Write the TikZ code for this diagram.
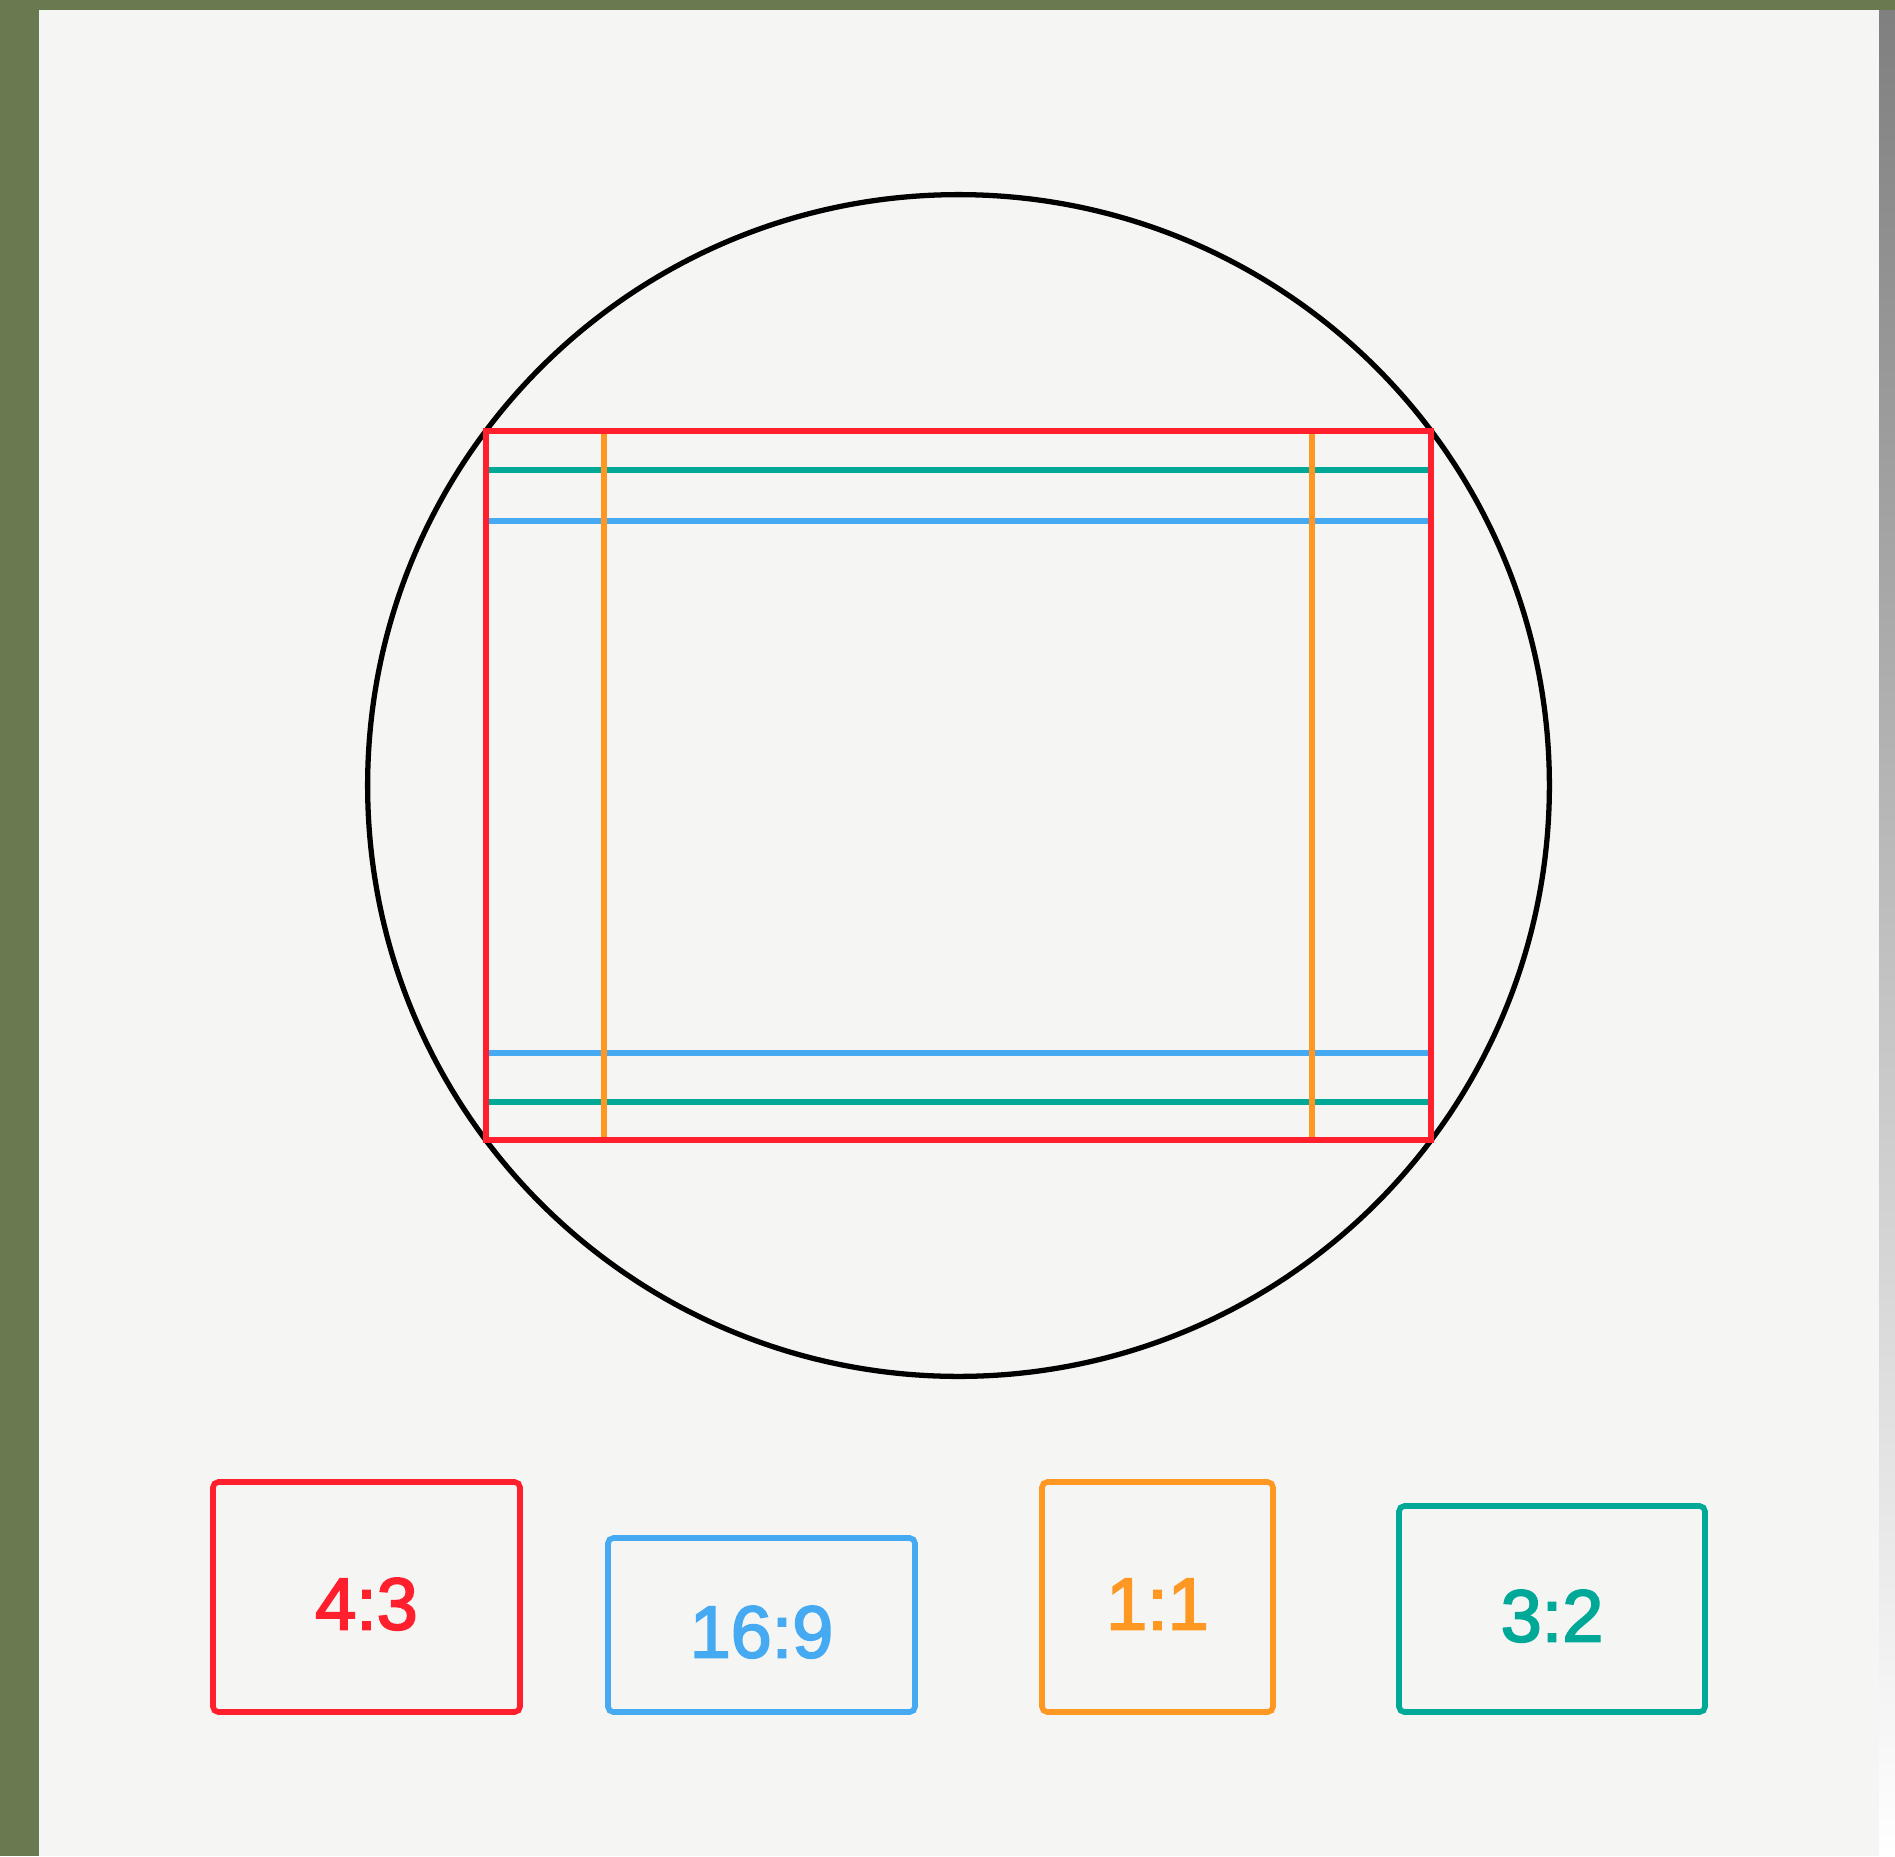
\documentclass[tikz,border=0pt]{standalone}
\usepackage{fontspec}
\setmainfont{Liberation Sans}
\newfontfamily\ratiofont[FakeBold=2.5]{Liberation Sans}
\usetikzlibrary{positioning}
\definecolor{paper}{RGB}{245,245,243}
\definecolor{moss}{RGB}{106,122,80}
\definecolor{shade}{RGB}{48,48,46}
\definecolor{fourthree}{RGB}{255,31,45}
\definecolor{sixteennine}{RGB}{69,170,242}
\definecolor{oneone}{RGB}{255,152,34}
\definecolor{threetwo}{RGB}{0,168,152}
\tikzset{
  every picture/.style={line width=3pt},
  ratiobox/.style={draw, rounded corners=3pt, line width=3.2pt, inner sep=0pt,
    font=\ratiofont\fontsize{42}{50}\selectfont, text height=1.3cm, text depth=0pt},
  cropline/.style={line width=3pt},
}
\begin{document}
\begin{tikzpicture}[x=0.02cm, y=-0.02cm]
  \useasboundingbox (0,0) rectangle (1895,1856);
  % backdrop photo edges and the light panel
  \fill[moss] (0,0) rectangle (1895,1856);
  \fill[shade] (1879,10) rectangle (1895,1856);
  \fill[paper] (39,10) rectangle (1879,1856);
  % image circle and the crops inside it
  \node[circle, draw=black, line width=3pt, minimum size=23.64cm, inner sep=0pt] (lens) at (958.5,785.5) {};
  \draw[cropline, threetwo] (486,470) -- (1431,470);
  \draw[cropline, threetwo] (486,1102) -- (1431,1102);
  \draw[cropline, sixteennine] (486,521) -- (1431,521);
  \draw[cropline, sixteennine] (486,1053) -- (1431,1053);
  \draw[cropline, oneone] (604,431) -- (604,1140);
  \draw[cropline, oneone] (1312,431) -- (1312,1140);
  \node[draw=fourthree, line width=3.2pt, minimum width=18.9cm, minimum height=14.18cm, inner sep=0pt] (frame) at (958.5,785.5) {};
  % legend
  \node[ratiobox, draw=fourthree, text=fourthree, minimum width=6.14cm, minimum height=4.6cm] (legfour) at (366.5,1597) {4:3};
  \node[ratiobox, draw=sixteennine, text=sixteennine, minimum width=6.14cm, minimum height=3.48cm] (legsixteen) at (761.5,1625) {16:9};
  \node[ratiobox, draw=oneone, text=oneone, minimum width=4.62cm, minimum height=4.6cm] (legone) at (1157.5,1597) {1:1};
  \node[ratiobox, draw=threetwo, text=threetwo, minimum width=6.12cm, minimum height=4.12cm] (legthree) at (1552,1609) {3:2};
\end{tikzpicture}
\end{document}
